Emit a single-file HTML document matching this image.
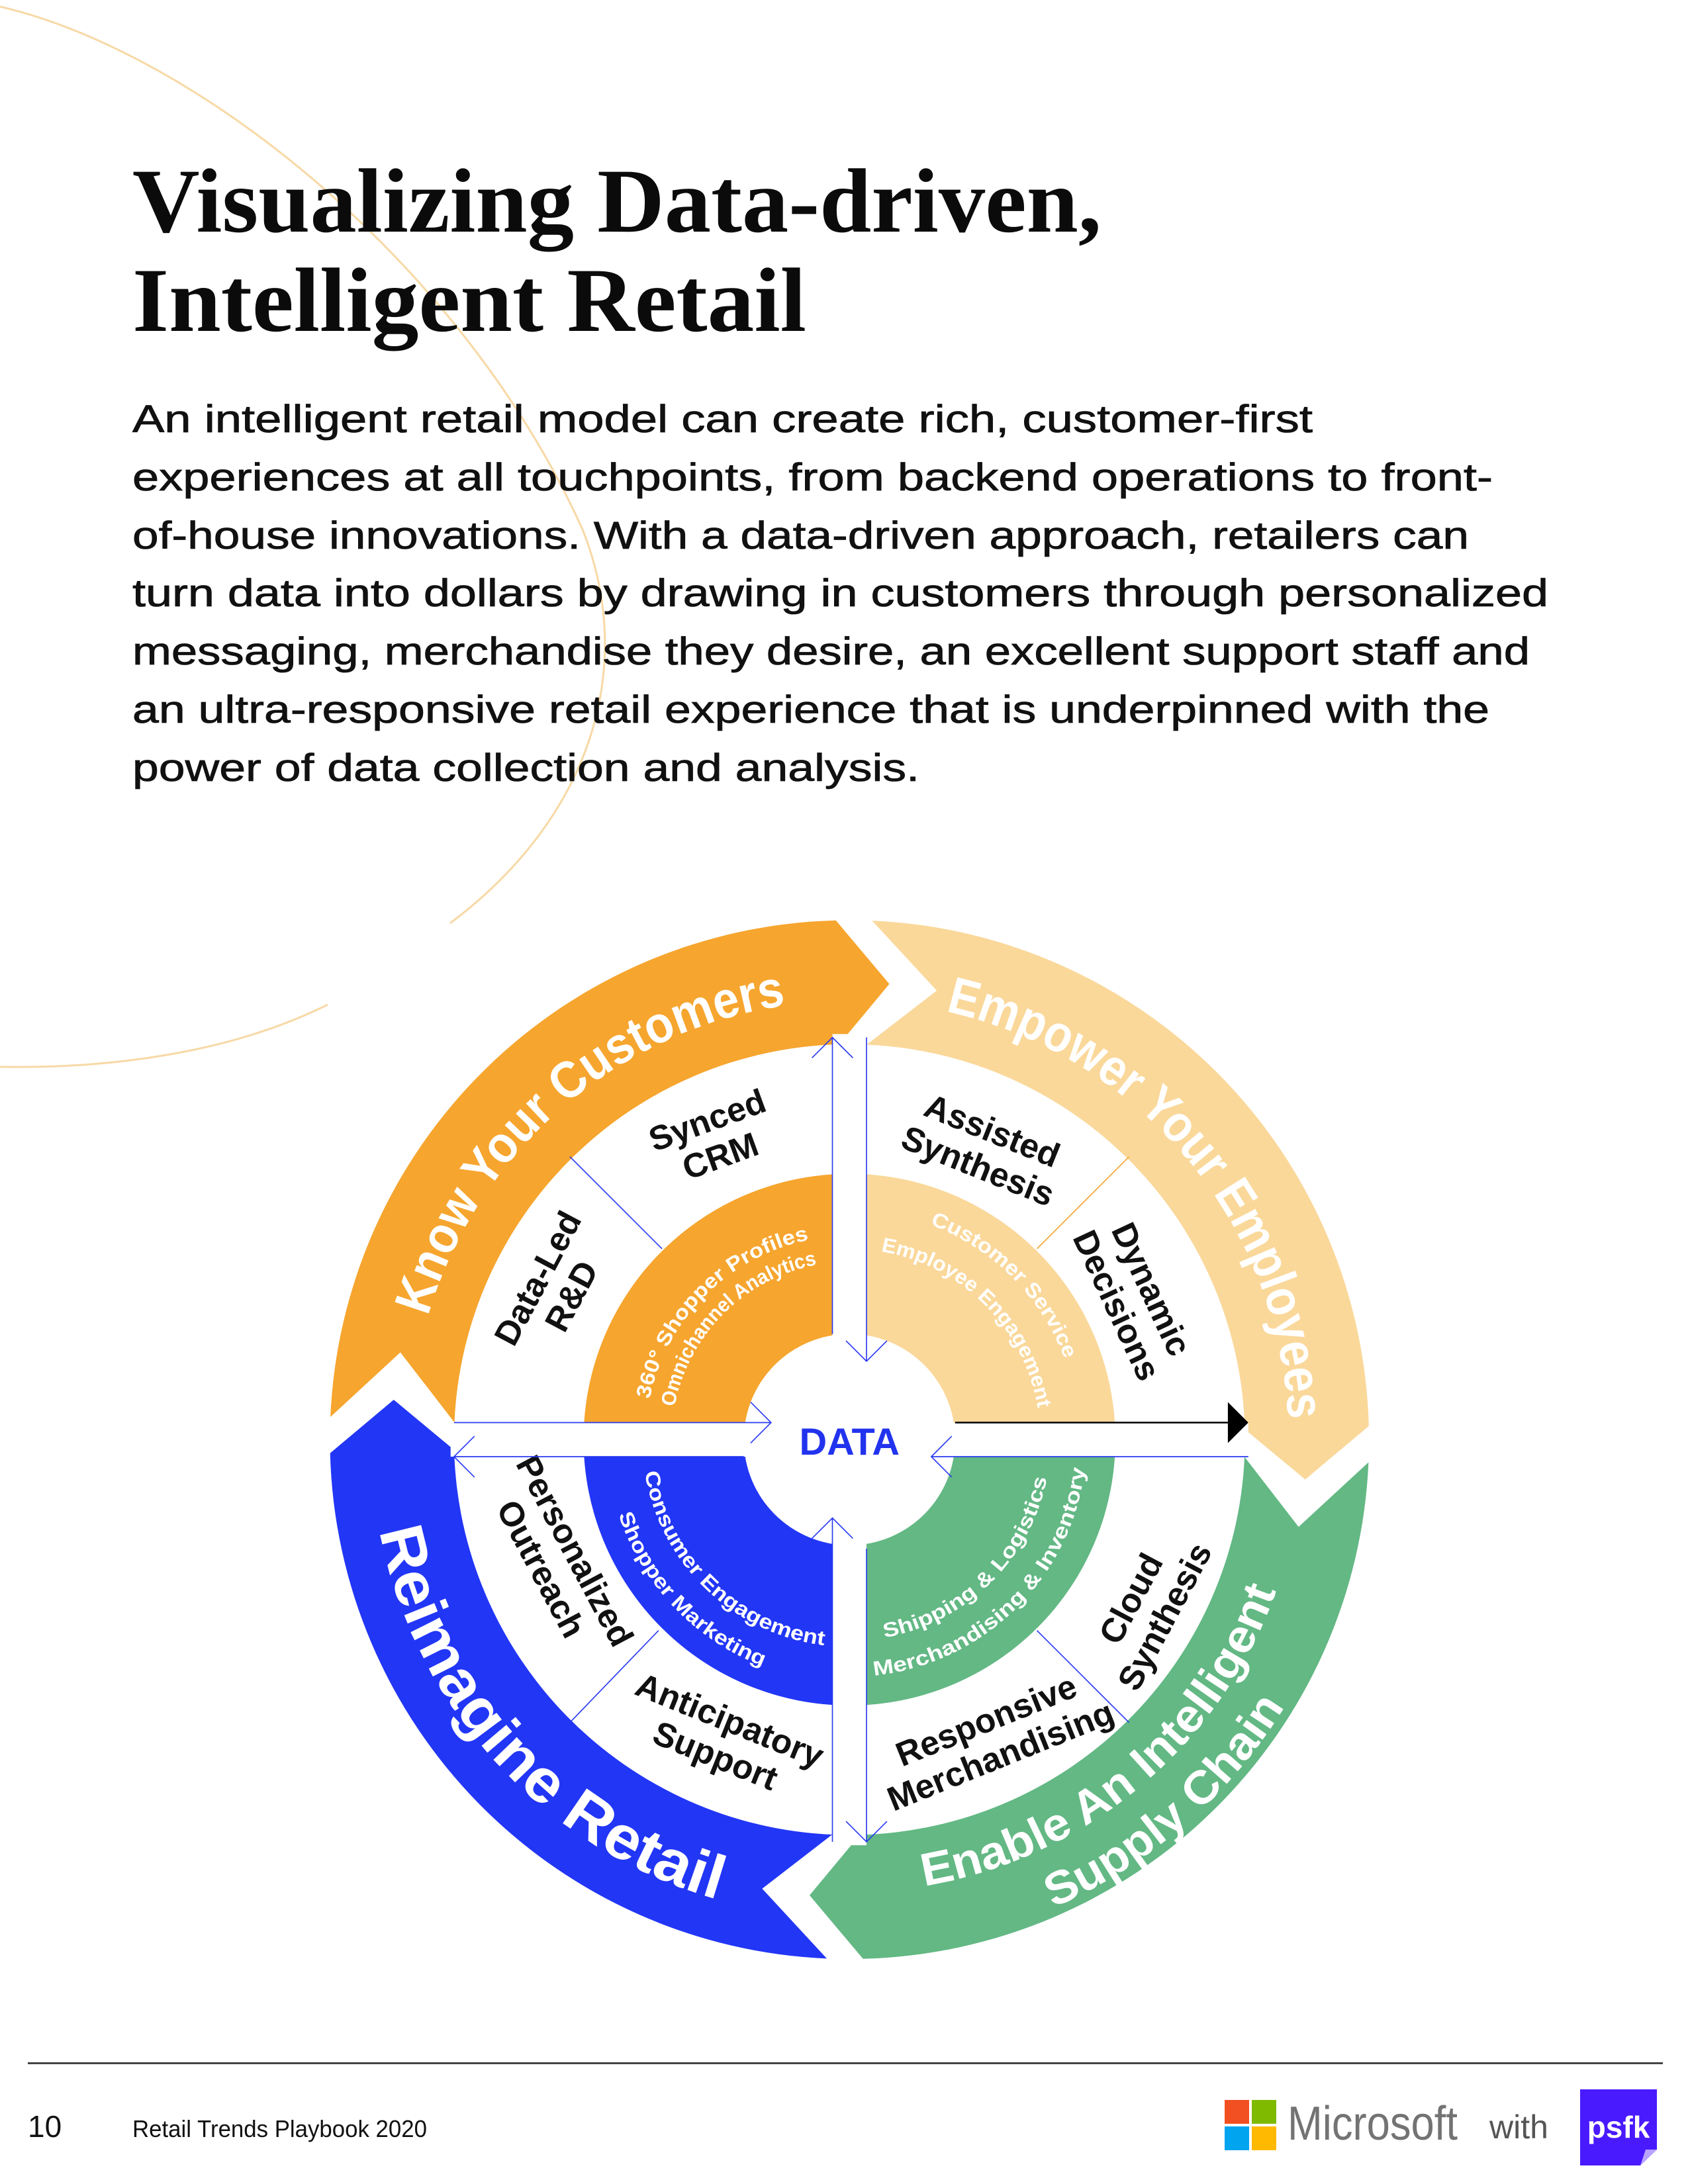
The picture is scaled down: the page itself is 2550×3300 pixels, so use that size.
<!DOCTYPE html>
<html><head><meta charset="utf-8"><style>
html,body{margin:0;padding:0;background:#fff}
svg{display:block}
</style></head><body>
<svg width="2550" height="3300" viewBox="0 0 2550 3300" xmlns="http://www.w3.org/2000/svg">
<rect width="2550" height="3300" fill="#fff"/>
<!-- decorative arc -->
<path d="M0,10 C300,80 700,400 880,800 C960,1000 900,1230 680,1395" fill="none" stroke="#f7d9a6" stroke-width="3"/>
<path d="M495,1518 C350,1590 170,1615 0,1612" fill="none" stroke="#f7d9a6" stroke-width="3"/>

<!-- title -->
<g font-family="'Liberation Serif',serif" font-weight="bold" font-size="138" fill="#0b0b0b">
<text x="200" y="350" textLength="1464" lengthAdjust="spacingAndGlyphs">Visualizing Data-driven,</text>
<text x="200" y="500" textLength="1018" lengthAdjust="spacingAndGlyphs">Intelligent Retail</text>
</g>
<!-- body -->
<g font-family="'Liberation Sans',sans-serif" font-size="58" fill="#111" stroke="#111" stroke-width="0.8">
<text x="200" y="653" textLength="1783" lengthAdjust="spacingAndGlyphs">An intelligent retail model can create rich, customer-first</text>
<text x="200" y="741" textLength="2055" lengthAdjust="spacingAndGlyphs">experiences at all touchpoints, from backend operations to front-</text>
<text x="200" y="829" textLength="2019" lengthAdjust="spacingAndGlyphs">of-house innovations. With a data-driven approach, retailers can</text>
<text x="200" y="916" textLength="2139" lengthAdjust="spacingAndGlyphs">turn data into dollars by drawing in customers through personalized</text>
<text x="200" y="1004" textLength="2111" lengthAdjust="spacingAndGlyphs">messaging, merchandise they desire, an excellent support staff and</text>
<text x="200" y="1092" textLength="2050" lengthAdjust="spacingAndGlyphs">an ultra-responsive retail experience that is underpinned with the</text>
<text x="200" y="1180" textLength="1189" lengthAdjust="spacingAndGlyphs">power of data collection and analysis.</text>
</g>

<!-- diagram -->
<g transform="translate(485,1377) scale(1.03)">
<defs>
<path id="pKnow" d="M140.8,663.2 A644,644 0 0 1 752.5,131.4"/>
<path id="pEmp" d="M886.8,140.8 A644,644 0 0 1 1419,775"/>
<path id="pRe" d="M75.7,836.2 A702,702 0 0 0 653.1,1466.3"/>
<path id="pEn1" d="M798.2,1438.6 A664,664 0 0 0 1424.5,913.1"/>
<path id="pEn2" d="M1031.2,1478.8 A749,749 0 0 0 1436.3,1126.6"/>
<path id="pO1" d="M477.1,748.9 A299,299 0 0 1 748.9,477.1"/>
<path id="pO2" d="M515,752.3 A261,261 0 0 1 752.3,515"/>
<path id="pY1" d="M804.4,439.3 A337,337 0 0 1 1110.7,745.6"/>
<path id="pY2" d="M799.4,496.1 A280,280 0 0 1 1053.9,750.6"/>
<path id="pB1" d="M471.2,785.6 A304,304 0 0 0 775,1079"/>
<path id="pB2" d="M419.2,787.4 A356,356 0 0 0 744,1129.6"/>
<path id="pG1" d="M785.3,1069.8 A295,295 0 0 0 1069.6,790.4"/>
<path id="pG2" d="M787.1,1122.8 A348,348 0 0 0 1122.5,793.2"/>
</defs>
<!-- outer bands -->
<path d="M1536.3,808.2 A762,762 0 0 1 794.9,1536.7 L716.5,1443.4 L790.2,1354.8 A580,580 0 0 0 1354.4,800.3 L1433.7,903 Z" fill="#63b884"/>
<path d="M741.8,1536.3 A762,762 0 0 1 13.3,794.9 L106.6,716.5 L195.2,790.2 A580,580 0 0 0 749.7,1354.4 L647,1433.7 Z" fill="#2236f6"/>
<path d="M13.7,741.8 A762,762 0 0 1 755.1,13.3 L833.5,106.6 L759.8,195.2 A580,580 0 0 0 195.6,749.7 L116.3,647 Z" fill="#f6a52e"/>
<path d="M808.2,13.7 A762,762 0 0 1 1536.7,755.1 L1443.4,833.5 L1354.8,759.8 A580,580 0 0 0 800.3,195.6 L903,116.3 Z" fill="#fad89a"/>
<!-- inner quadrants -->
<path d="M775,775 L385,775 A390,390 0 0 1 775,385 Z" fill="#f6a52e"/>
<path d="M775,775 L775,385 A390,390 0 0 1 1165,775 Z" fill="#fad89a"/>
<path d="M775,775 L1165,775 A390,390 0 0 1 775,1165 Z" fill="#63b884"/>
<path d="M775,775 L775,1165 A390,390 0 0 1 385,775 Z" fill="#2236f6"/>
<rect x="750" y="180" width="50" height="1190" fill="#fff"/>
<rect x="190" y="750" width="1170" height="50" fill="#fff"/>
<circle cx="775" cy="775" r="155" fill="#fff"/>

<!-- band texts -->
<g font-family="'Liberation Sans',sans-serif" font-weight="bold" fill="#fff">
<text font-size="76"><textPath href="#pKnow" startOffset="50%" text-anchor="middle" textLength="735" lengthAdjust="spacingAndGlyphs">Know Your Customers</textPath></text>
<text font-size="76"><textPath href="#pEmp" startOffset="50%" text-anchor="middle" textLength="840" lengthAdjust="spacingAndGlyphs">Empower Your Employees</textPath></text>
<text font-size="90"><textPath href="#pRe" startOffset="50%" text-anchor="middle" textLength="772" lengthAdjust="spacingAndGlyphs">Reimagine Retail</textPath></text>
<text font-size="68"><textPath href="#pEn1" startOffset="50%" text-anchor="middle" textLength="707" lengthAdjust="spacingAndGlyphs">Enable An Intelligent</textPath></text>
<text font-size="68"><textPath href="#pEn2" startOffset="50%" text-anchor="middle" textLength="457" lengthAdjust="spacingAndGlyphs">Supply Chain</textPath></text>
<g font-size="30">
<text><textPath href="#pO1" startOffset="50%" text-anchor="middle" textLength="350" lengthAdjust="spacingAndGlyphs">360° Shopper Profiles</textPath></text>
<text><textPath href="#pO2" startOffset="50%" text-anchor="middle" textLength="314" lengthAdjust="spacingAndGlyphs">Omnichannel Analytics</textPath></text>
<text><textPath href="#pY1" startOffset="50%" text-anchor="middle" textLength="288" lengthAdjust="spacingAndGlyphs">Customer Service</textPath></text>
<text><textPath href="#pY2" startOffset="50%" text-anchor="middle" textLength="347" lengthAdjust="spacingAndGlyphs">Employee Engagement</textPath></text>
<text><textPath href="#pB1" startOffset="50%" text-anchor="middle" textLength="392" lengthAdjust="spacingAndGlyphs">Consumer Engagement</textPath></text>
<text><textPath href="#pB2" startOffset="50%" text-anchor="middle" textLength="317" lengthAdjust="spacingAndGlyphs">Shopper Marketing</textPath></text>
<text><textPath href="#pG1" startOffset="50%" text-anchor="middle" textLength="355" lengthAdjust="spacingAndGlyphs">Shipping &amp; Logistics</textPath></text>
<text><textPath href="#pG2" startOffset="50%" text-anchor="middle" textLength="468" lengthAdjust="spacingAndGlyphs">Merchandising &amp; Inventory</textPath></text>
</g>
</g>

<!-- white ring labels -->
<g font-family="'Liberation Sans',sans-serif" font-weight="bold" font-size="50" fill="#111" text-anchor="middle">
<g transform="translate(575,330) rotate(-20)"><text><tspan x="0" y="-8">Synced</tspan><tspan x="0" y="48">CRM</tspan></text></g>
<g transform="translate(340,550) rotate(-62)"><text><tspan x="0" y="-8">Data-Led</tspan><tspan x="0" y="48">R&amp;D</tspan></text></g>
<g transform="translate(975,345) rotate(22)"><text><tspan x="0" y="-8">Assisted</tspan><tspan x="0" y="48">Synthesis</tspan></text></g>
<g transform="translate(1195,565) rotate(65)"><text><tspan x="0" y="-8">Dynamic</tspan><tspan x="0" y="48">Decisions</tspan></text></g>
<g transform="translate(350,950) rotate(62)"><text><tspan x="0" y="-8">Personalized</tspan><tspan x="0" y="48">Outreach</tspan></text></g>
<g transform="translate(590,1210) rotate(22)"><text><tspan x="0" y="-8">Anticipatory</tspan><tspan x="0" y="48">Support</tspan></text></g>
<g transform="translate(985,1210) rotate(-22)"><text><tspan x="0" y="-8">Responsive</tspan><tspan x="0" y="48">Merchandising</tspan></text></g>
<g transform="translate(1210,1020) rotate(-62)"><text><tspan x="0" y="-8">Cloud</tspan><tspan x="0" y="48">Synthesis</tspan></text></g>
</g>

<!-- connectors -->
<g stroke="#2a3af0" stroke-width="1.6" fill="none">
<path d="M750,620 V185 M720,215 L750,185 L780,215"/>
<path d="M800,185 V660 M770,630 L800,660 L830,630"/>
<path d="M750,1365 V890 M720,920 L750,890 L780,920"/>
<path d="M800,935 V1365 M770,1335 L800,1365 L830,1335"/>
<path d="M195,750 H660 M630,720 L660,750 L630,780"/>
<path d="M195,800 H620 M225,770 L195,800 L225,830"/>
<path d="M1360,800 H895 M925,770 L895,800 L925,830"/>
<path d="M365,360 L500,495"/>
<path d="M365,1190 L495,1055"/>
<path d="M1050,1055 L1185,1190"/>
</g>
<path d="M1185,360 L1050,495" stroke="#f6a52e" stroke-width="1.6"/>
<path d="M930,750 H1335" stroke="#000" stroke-width="2.5"/>
<path d="M1330,720 L1360,750 L1330,780 Z" fill="#000"/>
<text x="775" y="797" font-family="'Liberation Sans',sans-serif" font-weight="bold" font-size="56" fill="#2233ee" text-anchor="middle">DATA</text>
</g>

<!-- footer -->
<rect x="42" y="3116" width="2470" height="3" fill="#444"/>
<text x="42" y="3229" font-family="'Liberation Sans',sans-serif" font-size="46" fill="#111">10</text>
<text x="200" y="3229" font-family="'Liberation Sans',sans-serif" font-size="36" fill="#111" textLength="445" lengthAdjust="spacingAndGlyphs">Retail Trends Playbook 2020</text>
<rect x="1850" y="3173" width="37" height="36" fill="#f25022"/>
<rect x="1891" y="3173" width="37" height="36" fill="#7fba00"/>
<rect x="1850" y="3213" width="37" height="36" fill="#00a4ef"/>
<rect x="1891" y="3213" width="37" height="36" fill="#ffb900"/>
<text x="1945" y="3233" font-family="'Liberation Sans',sans-serif" font-size="72" fill="#737373" textLength="257" lengthAdjust="spacingAndGlyphs">Microsoft</text>
<text x="2250" y="3231" font-family="'Liberation Sans',sans-serif" font-size="50" fill="#555" textLength="89" lengthAdjust="spacingAndGlyphs">with</text>
<rect x="2387" y="3157" width="116" height="115" fill="#4a1aff"/>
<path d="M2503,3248 L2503,3272 L2478,3272 Z" fill="#fff"/>
<path d="M2503,3248 L2478,3272 L2486,3248 Z" fill="#b9a3ff"/>
<text x="2445" y="3230" font-family="'Liberation Sans',sans-serif" font-weight="bold" font-size="46" fill="#fff" text-anchor="middle">psfk</text>
</svg>
</body></html>
